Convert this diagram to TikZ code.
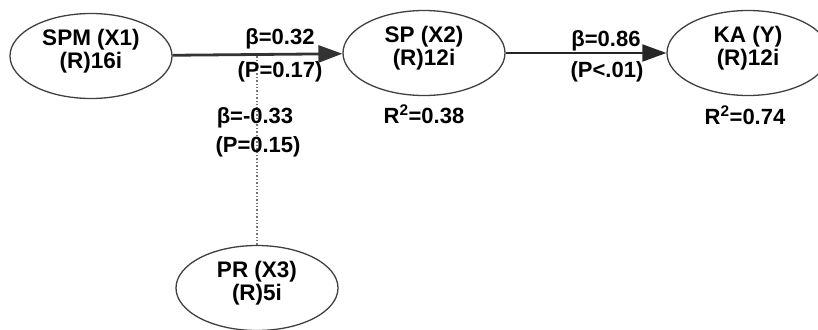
\documentclass[tikz,border=0pt]{standalone}
\usepackage{fontspec}
\setmainfont{Liberation Sans}
\usetikzlibrary{shapes.geometric,arrows.meta}

\begin{document}
\begin{tikzpicture}[x=1pt, y=-1pt,
    oval/.style={draw=black!75, line width=1.3pt, ellipse, minimum width=162pt,
      minimum height=85pt, inner sep=0pt, align=center, text depth=14pt,
      font=\fontsize{22.5}{23}\selectfont\bfseries},
    coef/.style={anchor=base, font=\fontsize{22}{23}\selectfont\bfseries},
    path/.style={-{Triangle[length=24pt,width=17pt]}, line width=#1},
  ]
    \useasboundingbox (0,0) rectangle (818,329);

    % constructs
    \node[oval] (spm) at (91,56)  {SPM (X1)\\(R)16i};
    \node[oval] (sp)  at (424,53) {SP (X2)\\(R)12i};
    \node[oval] (ka)  at (748,53) {KA (Y)\\(R)12i};
    \node[oval] (pr)  at (257,288) {PR (X3)\\(R)5i};

    % paths
    \draw[path=2.8pt, black!80] (spm) -- (sp);
    \draw[path=2pt, black!85] (sp) -- (ka);
    \coordinate (mod) at (pr.north |- spm.east);
    \draw[dotted, line width=1.4pt, black!55] (pr) -- (mod);

    % coefficients
    \node[coef] (b1) at (280,45)  {β=0.32};
    \node[coef] (p1) at (280,77)  {(P=0.17)};
    \node[coef] (b3) at (255,123) {β=-0.33};
    \node[coef] (p3) at (258,152) {(P=0.15)};
    \node[coef] (b2) at (606,46)  {β=0.86};
    \node[coef] (p2) at (607,77)  {(P<.01)};
    \node[coef] (r1) at (424,123) {R\textsuperscript{2}=0.38};
    \node[coef] (r2) at (745,124) {R\textsuperscript{2}=0.74};
  \end{tikzpicture}
\end{document}
